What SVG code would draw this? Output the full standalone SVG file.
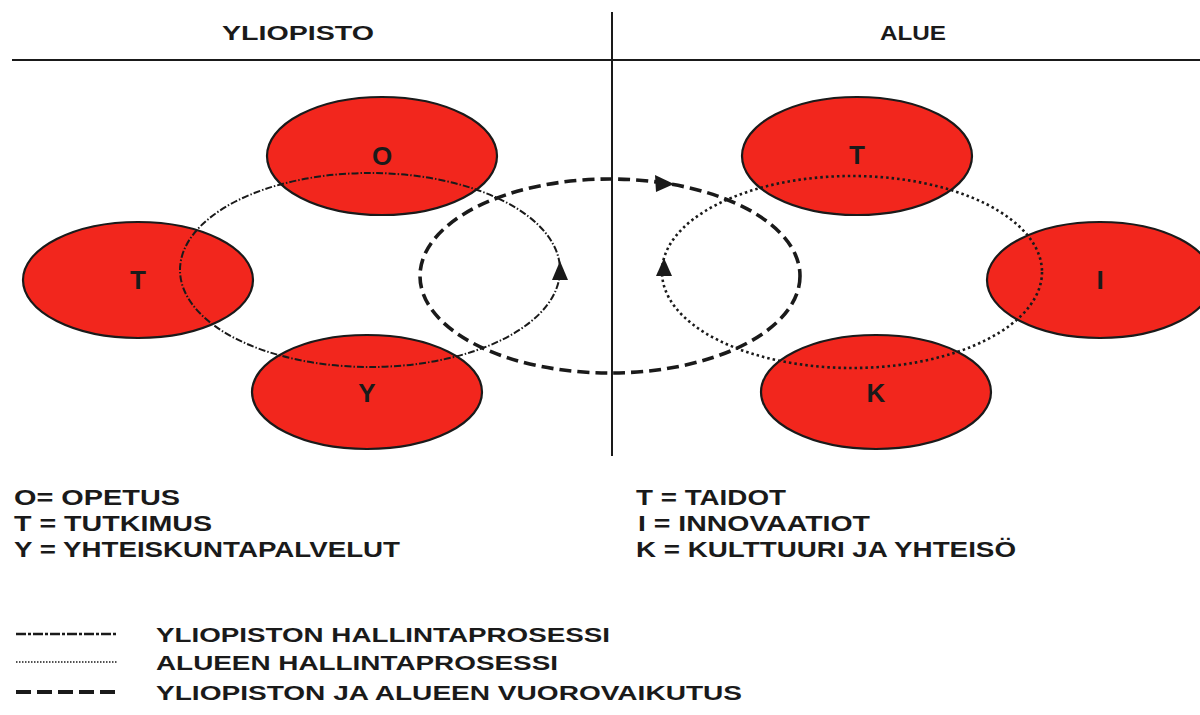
<svg xmlns="http://www.w3.org/2000/svg" width="1200" height="715" viewBox="0 0 1200 715">
<style>
.node{fill:#f2261d;stroke:#1a1a1a;stroke-width:2.2}
.lbl{font-family:"Liberation Sans",Arial,sans-serif;font-weight:bold;font-size:26px;fill:#1a1a1a;text-anchor:middle}
.hdr{font-family:"Liberation Sans",Arial,sans-serif;font-weight:bold;font-size:21px;fill:#1a1a1a;text-anchor:middle}
.leg{font-family:"Liberation Sans",Arial,sans-serif;font-weight:bold;font-size:22px;fill:#1a1a1a}
.leg2{font-family:"Liberation Sans",Arial,sans-serif;font-weight:bold;font-size:21px;fill:#1a1a1a}
.uni{fill:none;stroke:#1a1a1a;stroke-width:2;stroke-dasharray:7 2 1.5 2}
.reg{fill:none;stroke:#1a1a1a;stroke-width:2.6;stroke-dasharray:2.5 3}
.int{fill:none;stroke:#1a1a1a;stroke-width:3.6;stroke-dasharray:12 6}
.arr{fill:#1a1a1a}
</style>
<rect width="1200" height="715" fill="#ffffff"/>
<g id="frame">
<line x1="12" y1="60" x2="1200" y2="60" stroke="#1a1a1a" stroke-width="2"/>
<line x1="612" y1="12" x2="612" y2="456" stroke="#1a1a1a" stroke-width="2"/>
<text class="hdr" x="298" y="40" textLength="152" lengthAdjust="spacingAndGlyphs">YLIOPISTO</text>
<text class="hdr" x="913" y="40" textLength="66" lengthAdjust="spacingAndGlyphs">ALUE</text>
</g>
<g id="node-O"><ellipse class="node" cx="382" cy="156" rx="115" ry="59"/></g>
<g id="node-T-left"><ellipse class="node" cx="138" cy="280" rx="115" ry="58"/></g>
<g id="node-Y"><ellipse class="node" cx="367" cy="392" rx="115" ry="57"/></g>
<g id="node-T-right"><ellipse class="node" cx="857" cy="156" rx="115" ry="59"/></g>
<g id="node-I"><ellipse class="node" cx="1100" cy="280" rx="113" ry="58"/></g>
<g id="node-K"><ellipse class="node" cx="876" cy="392" rx="115" ry="57"/></g>
<g id="connectors">
<ellipse class="uni" cx="370" cy="270" rx="190" ry="97"/>
<ellipse class="reg" cx="852" cy="272" rx="190" ry="96"/>
<ellipse class="int" cx="610" cy="276" rx="190" ry="97"/>
<polygon class="arr" points="560,261 552,280 568,280"/>
<polygon class="arr" points="664,258 656,276 672,276"/>
<polygon class="arr" points="674,184 655,175 656,192"/>
</g>
<g id="labels">
<text class="lbl" x="382" y="165">O</text>
<text class="lbl" x="138" y="289">T</text>
<text class="lbl" x="367" y="402">Y</text>
<text class="lbl" x="857" y="164">T</text>
<text class="lbl" x="1100" y="289">I</text>
<text class="lbl" x="876" y="402">K</text>
</g>
<g id="legend-keys">
<text class="leg" x="14" y="505" textLength="166" lengthAdjust="spacingAndGlyphs">O= OPETUS</text>
<text class="leg" x="14" y="531" textLength="198" lengthAdjust="spacingAndGlyphs">T = TUTKIMUS</text>
<text class="leg" x="14" y="557" textLength="386" lengthAdjust="spacingAndGlyphs">Y = YHTEISKUNTAPALVELUT</text>
<text class="leg" x="636" y="505" textLength="150" lengthAdjust="spacingAndGlyphs">T = TAIDOT</text>
<text class="leg" x="638" y="531" textLength="232" lengthAdjust="spacingAndGlyphs">I = INNOVAATIOT</text>
<text class="leg" x="636" y="557" textLength="380" lengthAdjust="spacingAndGlyphs">K = KULTTUURI JA YHTEISÖ</text>
</g>
<g id="legend-lines">
<line class="uni" x1="16" y1="634" x2="118" y2="634" style="stroke-width:2.6;stroke-dasharray:10 2 3 2"/>
<line class="reg" x1="16" y1="662" x2="118" y2="662" style="stroke-width:1.6;stroke-dasharray:1.5 1.5"/>
<line class="int" x1="16" y1="692" x2="118" y2="692" style="stroke-width:4;stroke-dasharray:15 6"/>
<text class="leg2" x="156" y="642" textLength="454" lengthAdjust="spacingAndGlyphs">YLIOPISTON HALLINTAPROSESSI</text>
<text class="leg2" x="156" y="670" textLength="402" lengthAdjust="spacingAndGlyphs">ALUEEN HALLINTAPROSESSI</text>
<text class="leg2" x="156" y="700" textLength="586" lengthAdjust="spacingAndGlyphs">YLIOPISTON JA ALUEEN VUOROVAIKUTUS</text>
</g>
</svg>
